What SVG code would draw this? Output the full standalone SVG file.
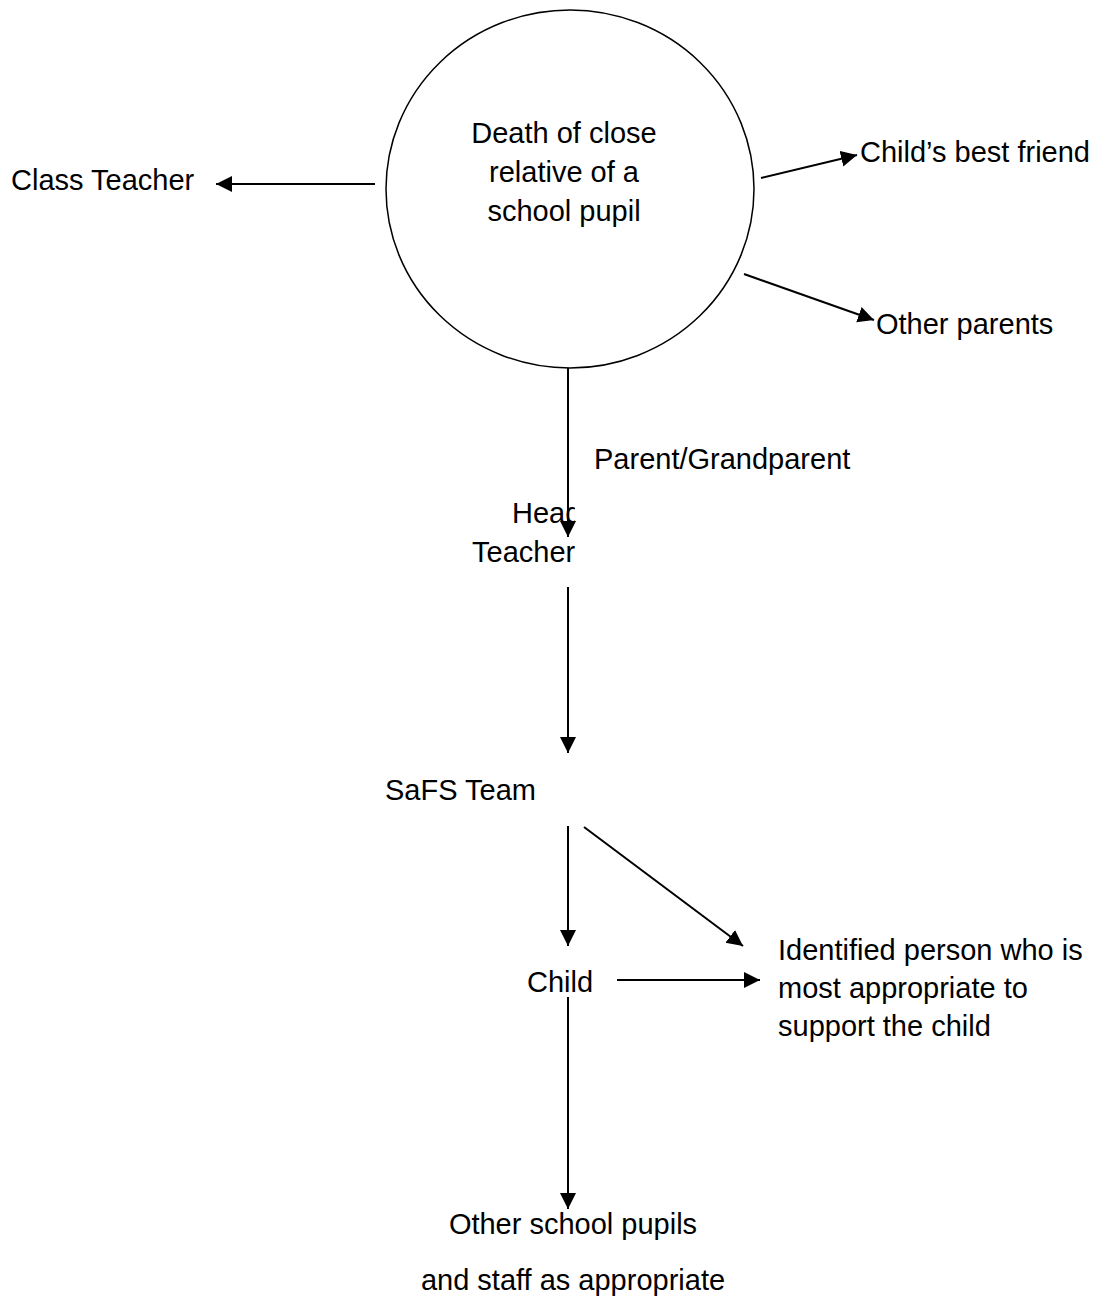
<svg xmlns="http://www.w3.org/2000/svg" width="1101" height="1308" viewBox="0 0 1101 1308">
<style>
text{font-family:"Liberation Sans",Arial,sans-serif;font-size:29px;fill:#000}
.c{stroke:#000;stroke-width:2;fill:none}
</style>
<defs>
<marker id="ah" markerUnits="userSpaceOnUse" markerWidth="17" markerHeight="17" refX="16" refY="8" orient="auto">
<path d="M0,0 L16,8 L0,16 Z" fill="#000"/>
</marker>
<clipPath id="htclip"><rect x="440" y="490" width="135" height="90"/></clipPath>
</defs>
<rect width="1101" height="1308" fill="#fff"/>
<g id="connectors">
<line class="c" x1="375" y1="184" x2="216" y2="184" marker-end="url(#ah)"/>
<line class="c" x1="761" y1="178" x2="857" y2="155" marker-end="url(#ah)"/>
<line class="c" x1="744" y1="274" x2="874" y2="320" marker-end="url(#ah)"/>
<line class="c" x1="568" y1="368" x2="568" y2="537" marker-end="url(#ah)"/>
<line class="c" x1="568" y1="587" x2="568" y2="753" marker-end="url(#ah)"/>
<line class="c" x1="568" y1="826" x2="568" y2="946" marker-end="url(#ah)"/>
<line class="c" x1="584" y1="827" x2="743" y2="946" marker-end="url(#ah)"/>
<line class="c" x1="617" y1="980" x2="760" y2="980" marker-end="url(#ah)"/>
<line class="c" x1="568" y1="997" x2="568" y2="1209" marker-end="url(#ah)"/>
</g>
<g id="death">
<ellipse cx="570" cy="189" rx="184" ry="179" fill="none" stroke="#000" stroke-width="1.5"/>
<text x="564" y="143" text-anchor="middle">Death of close</text>
<text x="564" y="182" text-anchor="middle">relative of a</text>
<text x="564" y="221" text-anchor="middle">school pupil</text>
</g>
<g id="classteacher"><text x="11" y="190">Class Teacher</text></g>
<g id="bestfriend"><text x="860" y="162">Child’s best friend</text></g>
<g id="otherparents"><text x="876" y="334">Other parents</text></g>
<g id="parentlabel"><text x="594" y="469">Parent/Grandparent</text></g>
<g id="headteacher" clip-path="url(#htclip)">
<text x="512" y="523">Head</text>
<text x="472" y="562">Teacher</text>
</g>
<g id="safs"><text x="385" y="800">SaFS Team</text></g>
<g id="child"><text x="527" y="992">Child</text></g>
<g id="identified">
<text x="778" y="960">Identified person who is</text>
<text x="778" y="998">most appropriate to</text>
<text x="778" y="1036">support the child</text>
</g>
<g id="otherpupils">
<text x="573" y="1234" text-anchor="middle">Other school pupils</text>
<text x="573" y="1290" text-anchor="middle">and staff as appropriate</text>
</g>
</svg>
